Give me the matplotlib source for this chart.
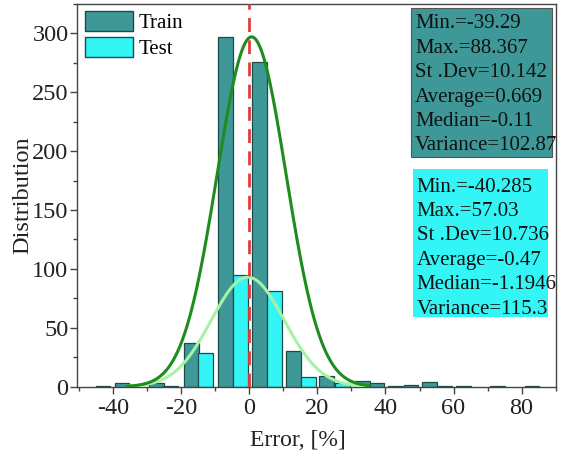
import numpy as np
import matplotlib
matplotlib.use("Agg")
import matplotlib.pyplot as plt
from matplotlib.patches import Patch, Rectangle
from matplotlib.ticker import MultipleLocator

plt.rcParams['font.family'] = ['Liberation Serif', 'DejaVu Serif']
plt.rcParams['axes.unicode_minus'] = False

# Histogram bars (bin position of each bar, count)
train_x = [-43, -37.4, -27.2, -23.2, -17, -7, 3, 13, 22.7, 33.3, 37.5, 43, 47.5, 53, 57.5, 63, 73, 83]
train_n = [1, 3, 3, 1, 37, 297, 276, 30, 9, 5, 3, 1, 1.5, 4, 1, 0.8, 0.8, 0.8]
test_x = [-12.8, -2.6, 7.3, 17.4, 27.4]
test_n = [29, 95, 81, 8, 3]

# Fitted normal curves
train_mean, train_sd, train_peak = 0.669, 10.142, 297
test_mean, test_sd, test_peak = -0.47, 10.736, 93

train_stats = ["Min.=-39.29", "Max.=88.367", "St .Dev=10.142",
               "Average=0.669", "Median=-0.11", "Variance=102.87"]
test_stats = ["Min.=-40.285", "Max.=57.03", "St .Dev=10.736",
              "Average=-0.47", "Median=-1.1946", "Variance=115.3"]

train_color = "#3f9898"
test_color = "#33f5f5"
edge = "#1e4a4a"

W, H = 564, 459
fig = plt.figure(figsize=(W / 100, H / 100), dpi=100)
ax = fig.add_axes([0.1374, 0.1575, 0.849, 0.834])

bw = 4.3
ax.bar(train_x, train_n, width=bw, color=train_color, edgecolor=edge, linewidth=0.9, zorder=2)
ax.bar(test_x, test_n, width=bw, color=test_color, edgecolor=edge, linewidth=0.9, zorder=2)

xs = np.linspace(-36, 35, 300)
ax.plot(xs, test_peak * np.exp(-(xs - test_mean) ** 2 / (2 * test_sd ** 2)),
        color="#a6f2a6", lw=2.2, zorder=3)
ax.plot(xs, train_peak * np.exp(-(xs - train_mean) ** 2 / (2 * train_sd ** 2)),
        color="#1e8c1e", lw=2.2, zorder=4)
ax.axvline(0, color="#e03c3c", lw=2, ls=(0, (5, 3)), zorder=5)

ax.set_xlim(-50.5, 90.2)
ax.set_ylim(0, 325)
ax.xaxis.set_major_locator(MultipleLocator(20))
ax.xaxis.set_minor_locator(MultipleLocator(10))
ax.yaxis.set_major_locator(MultipleLocator(50))
ax.yaxis.set_minor_locator(MultipleLocator(25))
ax.tick_params(which='major', direction='out', length=5, width=1, labelsize=17.5,
               colors='#444444', labelcolor='#222222', pad=3)
ax.tick_params(axis='y', which='major', pad=1.5)
ax.tick_params(which='minor', direction='out', length=3, width=1, colors='#444444')
for s in ax.spines.values():
    s.set_color('#444444')
    s.set_linewidth(1)

ax.set_xlabel("Error, [%]", fontsize=17, color='#222222')
ax.set_ylabel("Distribution", fontsize=17.5, color='#222222')
ax.xaxis.set_label_coords((298 - 77.5) / 479, -0.113)
ax.yaxis.set_label_coords((33 - 77.5) / 479, 0.5)

handles = [Patch(facecolor=train_color, edgecolor=edge, label="Train"),
           Patch(facecolor=test_color, edgecolor=edge, label="Test")]
ax.legend(handles=handles, loc="upper left", frameon=False, fontsize=15,
          handlelength=2.3, handleheight=1.1, handletextpad=0.3,
          borderaxespad=0.15, labelspacing=0.18, borderpad=0.2)


def stats_box(x0, x1, y0, y1, first, lines, face, edgecolor):
    fig.add_artist(Rectangle((x0 / W, 1 - y1 / H), (x1 - x0) / W, (y1 - y0) / H,
                             transform=fig.transFigure, facecolor=face,
                             edgecolor=edgecolor, lw=0.8, zorder=6))
    for i, line in enumerate(lines):
        fig.text((x0 + 4) / W, 1 - (first + 24.4 * i) / H, line, fontsize=15,
                 ha='left', va='center', color='#111111', zorder=7)


stats_box(411, 552, 8, 157, 24, train_stats, train_color, '#555555')
stats_box(412.5, 548, 169, 317, 187, test_stats, test_color, 'none')

fig.savefig("out.png", dpi=100)
